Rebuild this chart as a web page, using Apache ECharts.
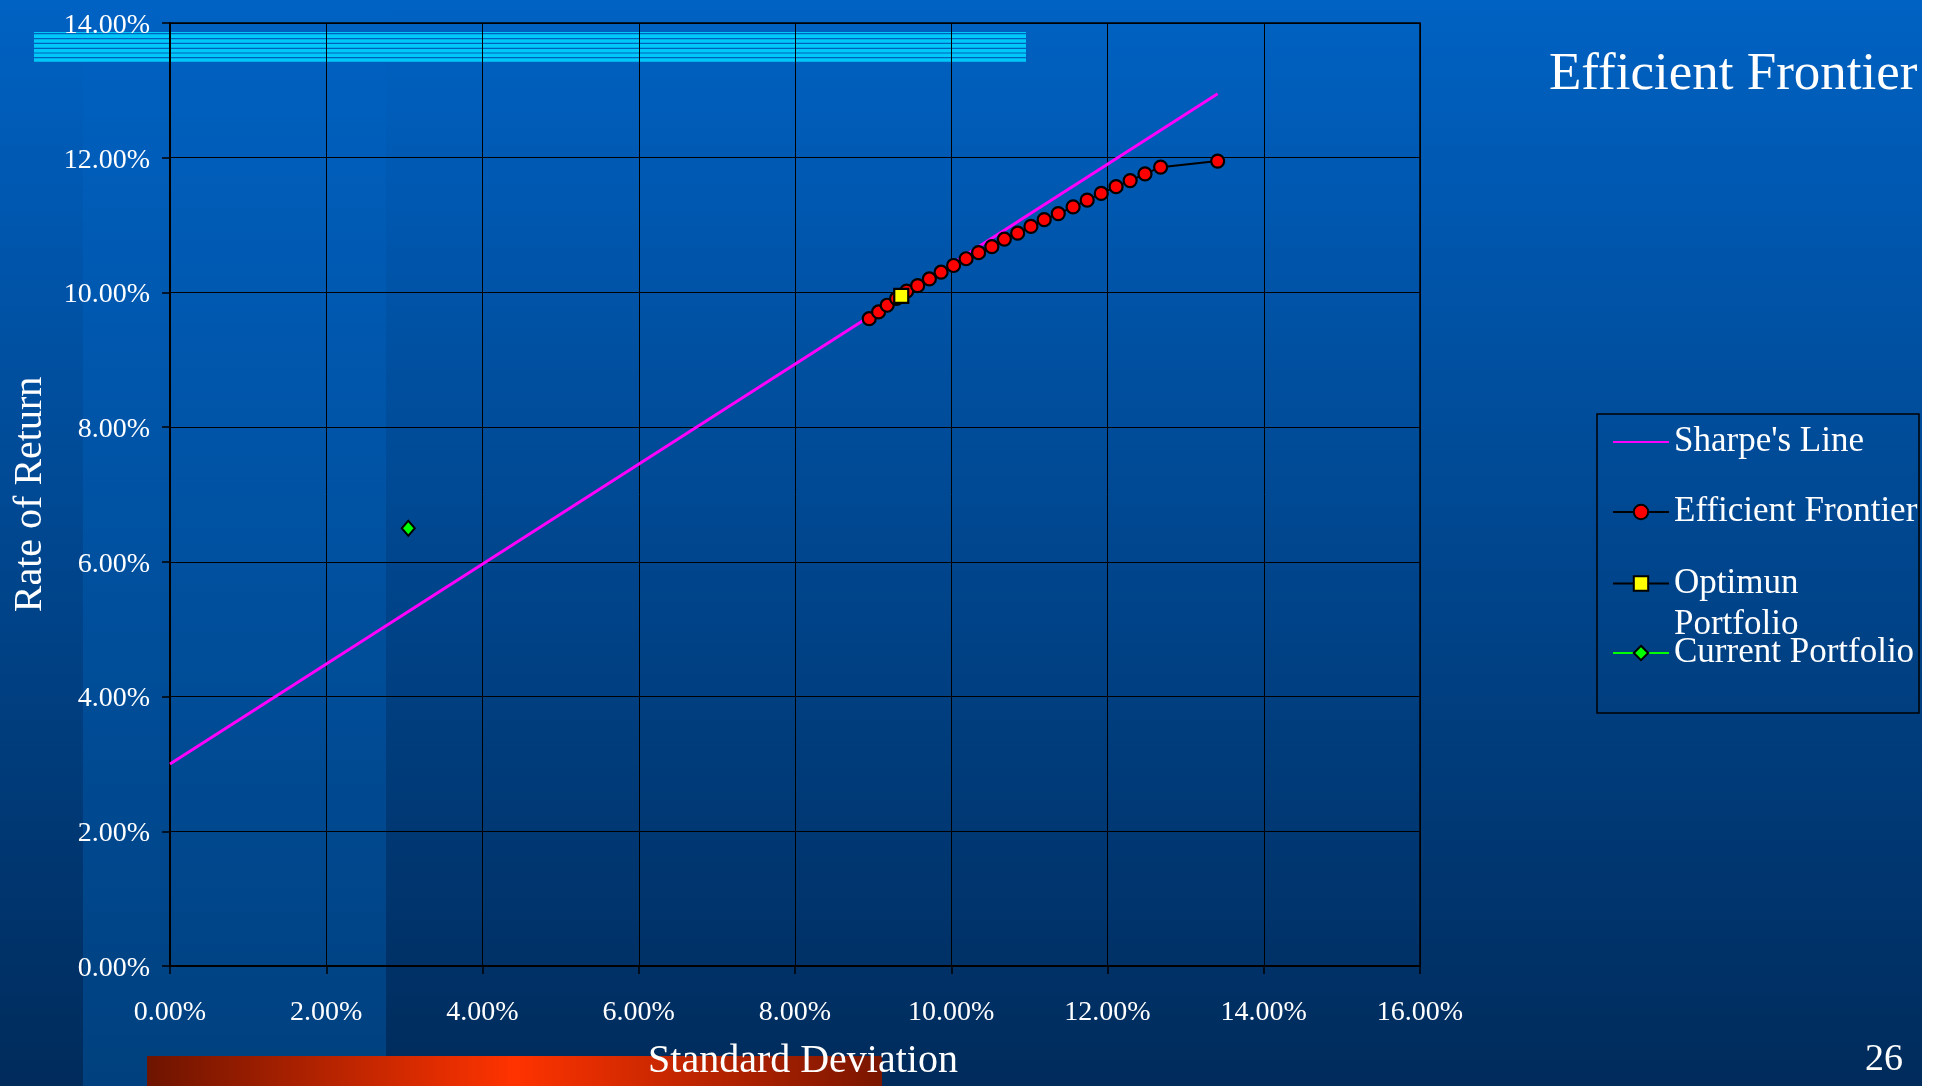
<!DOCTYPE html>
<html>
<head>
<meta charset="utf-8">
<title>Efficient Frontier</title>
<script src="https://cdn.jsdelivr.net/npm/echarts@6/dist/echarts.min.js"></script>
<style>
  html, body { margin: 0; padding: 0; background: #ffffff; }
  #chart { width: 1934px; height: 1086px; }
</style>
</head>
<body>
<div id="chart"></div>
<script>
// Risk (standard deviation) and return of the portfolios on the frontier
const frontierRisk = [0.0895, 0.0907, 0.0918, 0.0930, 0.0943, 0.0957, 0.0972, 0.0987, 0.1003, 0.1019,
                      0.1035, 0.1052, 0.1068, 0.1085, 0.1102, 0.1119, 0.1137, 0.1156, 0.1174, 0.1192,
                      0.1211, 0.1229, 0.1248, 0.1268, 0.1341];
const frontierReturn = [0.0961, 0.0971, 0.0981, 0.0991, 0.1002, 0.1010, 0.1020, 0.1030, 0.1040, 0.1050,
                        0.1059, 0.1068, 0.1079, 0.1088, 0.1098, 0.1108, 0.1117, 0.1127, 0.1137, 0.1147,
                        0.1157, 0.1166, 0.1176, 0.1186, 0.1195];

// Capital market line: from the risk-free rate through the tangency portfolio
const sharpeRisk = [0, 0.1341];
const sharpeReturn = [0.0300, 0.1295];

const optimumRisk = [0.0936];
const optimumReturn = [0.0995];

const currentRisk = [0.0305];
const currentReturn = [0.0650];

const seriesNames = ["Sharpe's Line", 'Efficient Frontier', 'Optimun\nPortfolio', 'Current Portfolio'];

const xTicks = { min: 0, max: 0.16, step: 0.02 };
const yTicks = { min: 0, max: 0.14, step: 0.02 };

const pairs = (xs, ys) => xs.map((x, i) => [x, ys[i]]);
const pct = v => (v * 100).toFixed(2) + '%';

const FONT = "'Liberation Serif', 'Times New Roman', serif";

const chart = echarts.init(document.getElementById('chart'), null, { renderer: 'canvas' });

// slide decoration: background, light column, cyan stripes and red bar
const stripeLines = [33.7, 38.7, 43.3, 48.3, 53, 57.7, 62.3];
const decoration = [
  {
    type: 'rect', z: -20, silent: true,
    shape: { x: 0, y: 0, width: 1922, height: 1086 },
    style: { fill: new echarts.graphic.LinearGradient(0, 0, 0, 1, [
      { offset: 0, color: '#0062c3' }, { offset: 1, color: '#002b5b' }]) }
  },
  {
    type: 'rect', z: -19, silent: true,
    shape: { x: 83, y: 0, width: 303, height: 1086 },
    style: { fill: new echarts.graphic.LinearGradient(0, 0, 0, 1, [
      { offset: 0, color: '#0062c3' }, { offset: 1, color: '#00407e' }]) }
  },
  {
    type: 'rect', z: -18, silent: true,
    shape: { x: 34, y: 32, width: 992, height: 31 },
    style: { fill: '#00c8f8' }
  }
].concat(stripeLines.map(y => ({
  type: 'rect', z: -17, silent: true,
  shape: { x: 34, y: y - 0.6, width: 992, height: 1.2 },
  style: { fill: '#0060be' }
}))).concat([
  {
    type: 'rect', z: -16, silent: true,
    shape: { x: 147, y: 1056, width: 735, height: 30 },
    style: { fill: new echarts.graphic.LinearGradient(0, 0, 1, 0, [
      { offset: 0, color: '#6e1400' }, { offset: 0.5, color: '#ff3300' }, { offset: 1, color: '#7a1600' }]) }
  },
  {
    // legend frame
    type: 'rect', z: 5, silent: true,
    shape: { x: 1597, y: 414, width: 322, height: 299 },
    style: { fill: 'none', stroke: '#000000', lineWidth: 1.5 }
  },
  {
    type: 'text', z: 5, silent: true,
    style: { text: '26', x: 1903, y: 1060, align: 'right', verticalAlign: 'middle',
             font: '38px ' + FONT, fill: '#ffffff' }
  }
]);

const legendText = { color: '#ffffff', fontFamily: FONT, fontSize: 35, lineHeight: 40 };
const legendBase = { left: 1612, orient: 'vertical', padding: 0, itemWidth: 56, itemHeight: 18, selectedMode: false };

const option = {
  backgroundColor: '#ffffff',
  animation: false,
  title: {
    text: 'Efficient Frontier',
    left: 1549, top: 49, padding: 0,
    textStyle: { color: '#ffffff', fontFamily: FONT, fontSize: 53, fontWeight: 'normal', lineHeight: 53 }
  },
  graphic: decoration,
  legend: [
    Object.assign({}, legendBase, { top: 422, data: [seriesNames[0]], textStyle: legendText,
      itemStyle: { opacity: 0 } }),
    Object.assign({}, legendBase, { top: 492, data: [seriesNames[1]], textStyle: legendText }),
    // first text line is blank so that "Optimun" sits level with its marker
    Object.assign({}, legendBase, { top: 522, data: [seriesNames[2]],
      formatter: name => '\n' + name,
      textStyle: Object.assign({}, legendText, { lineHeight: 41 }) }),
    Object.assign({}, legendBase, { top: 633, data: [seriesNames[3]], textStyle: legendText })
  ],
  grid: { left: 170, top: 23, right: 514, bottom: 116, show: true, borderColor: '#000000', borderWidth: 1.5 },
  xAxis: {
    type: 'value',
    min: xTicks.min, max: xTicks.max, interval: xTicks.step,
    name: 'Standard Deviation',
    nameLocation: 'middle', nameGap: 75,
    nameTextStyle: { color: '#ffffff', fontFamily: FONT, fontSize: 40, lineHeight: 40, padding: [0, 0, 0, 16] },
    axisLine: { show: true, lineStyle: { color: '#000000', width: 2 } },
    axisTick: { show: true, length: 8, lineStyle: { color: '#000000', width: 1.5 } },
    axisLabel: { color: '#ffffff', fontFamily: FONT, fontSize: 28, lineHeight: 28, margin: 33, formatter: pct },
    splitLine: { show: true, lineStyle: { color: '#000000', width: 1 } }
  },
  yAxis: {
    type: 'value',
    min: yTicks.min, max: yTicks.max, interval: yTicks.step,
    name: 'Rate of Return',
    nameLocation: 'middle', nameGap: 120,
    nameTextStyle: { color: '#ffffff', fontFamily: FONT, fontSize: 40, lineHeight: 40 },
    axisLine: { show: true, lineStyle: { color: '#000000', width: 2 } },
    axisTick: { show: true, length: 8, lineStyle: { color: '#000000', width: 1.5 } },
    // a short line box set from the top edge puts the digits just under each grid line
    axisLabel: { color: '#ffffff', fontFamily: FONT, fontSize: 28, margin: 20,
                 verticalAlign: 'top', lineHeight: 5, formatter: pct },
    splitLine: { show: true, lineStyle: { color: '#000000', width: 1 } }
  },
  series: [
    {
      name: seriesNames[0], type: 'line', z: 2,
      data: pairs(sharpeRisk, sharpeReturn),
      symbol: 'none', showSymbol: false,
      itemStyle: { color: '#ff00ff' },
      lineStyle: { color: '#ff00ff', width: 3 }
    },
    {
      name: seriesNames[1], type: 'line', z: 3,
      data: pairs(frontierRisk, frontierReturn),
      symbol: 'circle', symbolSize: 13,
      itemStyle: { color: '#ff0000', borderColor: '#000000', borderWidth: 2.2 },
      lineStyle: { color: '#000000', width: 2 }
    },
    {
      name: seriesNames[2], type: 'line', z: 4,
      data: pairs(optimumRisk, optimumReturn),
      symbol: 'rect', symbolSize: 14,
      itemStyle: { color: '#ffff00', borderColor: '#000000', borderWidth: 2.2 },
      lineStyle: { color: '#000000', width: 1 }
    },
    {
      name: seriesNames[3], type: 'line', z: 4,
      data: pairs(currentRisk, currentReturn),
      symbol: 'diamond', symbolSize: [13, 15],
      itemStyle: { color: '#00ff00', borderColor: '#000000', borderWidth: 2 },
      lineStyle: { color: '#00ff00', width: 2 }
    }
  ]
};

chart.setOption(option);
</script>
</body>
</html>
